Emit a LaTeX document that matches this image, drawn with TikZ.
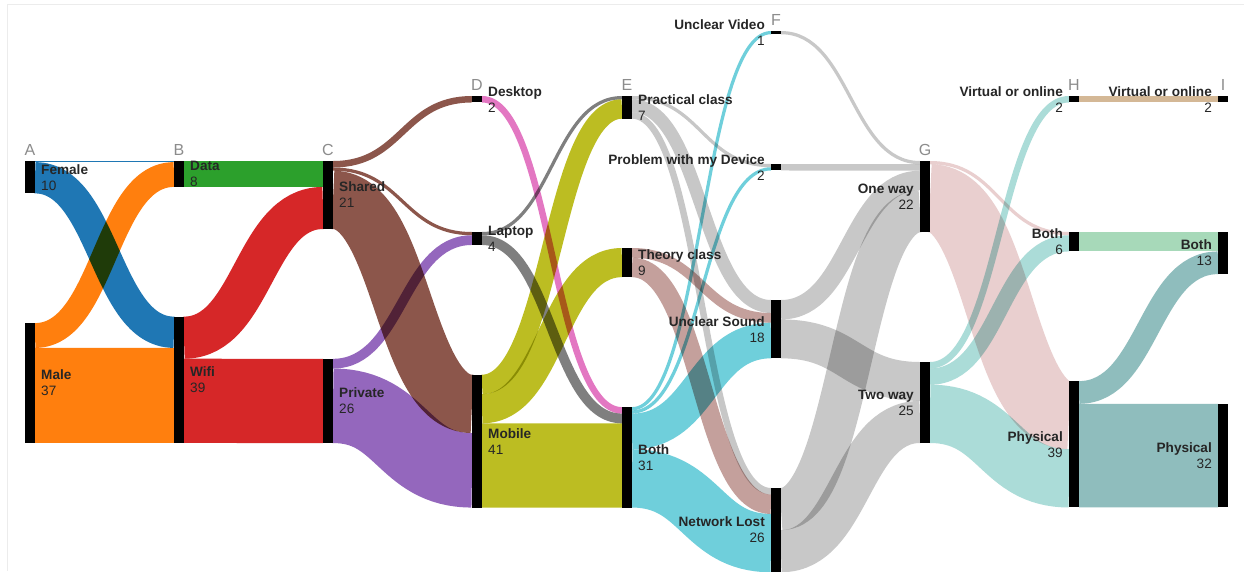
\documentclass[tikz,border=0pt]{standalone}
\usepackage{fontspec}
\setmainfont{Liberation Sans}
\usetikzlibrary{positioning,calc}

\definecolor{femcolor}{HTML}{1F77B4}
\definecolor{malecolor}{HTML}{FF7F0E}
\definecolor{datacolor}{HTML}{2CA02C}
\definecolor{wificolor}{HTML}{D62728}
\definecolor{sharedcolor}{HTML}{8C564B}
\definecolor{privatecolor}{HTML}{9467BD}
\definecolor{desktopcolor}{HTML}{E377C2}
\definecolor{laptopcolor}{HTML}{7F7F7F}
\definecolor{mobilecolor}{HTML}{BCBD22}
\definecolor{practicalcolor}{HTML}{C7C7C7}
\definecolor{theorycolor}{HTML}{C4A09C}
\definecolor{bothcolor}{HTML}{6FCFDB}
\definecolor{problemcolor}{HTML}{C8C8C8}
\definecolor{onewaycolor}{HTML}{E9CFCF}
\definecolor{twowaycolor}{HTML}{ABDCD8}
\definecolor{virtualcolor}{HTML}{D4B896}
\definecolor{hbothcolor}{HTML}{A7D9B9}
\definecolor{physicalcolor}{HTML}{8FBDBD}
\definecolor{framecolor}{HTML}{ECECEC}

% one unit of flow, in pt
\newcommand{\un}{3.24}
% band from #1 (offset #2) to #3 (offset #4), value #5, colour #6
\newcommand{\linkband}[6]{%
  \coordinate (ls) at ($(#1.north east)+(0,{(#2+#5/2)*\un})$);
  \coordinate (lt) at ($(#3.north west)+(0,{(#4+#5/2)*\un})$);
  \coordinate (lm) at ($(ls)!0.5!(lt)$);
  \draw[link, #6, line width=#5*\un*1pt] (ls) .. controls (ls -| lm) and (lt -| lm) .. (lt);}

\tikzset{
  bar/.style={fill=black, draw=none, inner sep=0pt, outer sep=0pt,
    minimum width=10pt, minimum height=#1*\un*1pt, anchor=north west},
  link/.style={line cap=butt, blend mode=multiply},
  lbl/.style={font=\fontsize{13.6}{16}\selectfont, align=left,
    inner sep=0pt, text=black!85},
  lblr/.style={lbl, align=right},
  colname/.style={font=\fontsize{16}{16}\selectfont, text=black!45, inner sep=0pt}
}

\begin{document}
\begin{tikzpicture}[x=1pt,y=-1pt]

% -------- Canvas --------
\useasboundingbox (0,0) rectangle (1244,571);
\fill[white] (0,0) rectangle (1244,571);
\draw[framecolor] (7,571) -- (7,4) -- (1244,4);

% -------- Columns A to I (black bars) --------
\node[bar=10] (fem) at (25,161) {};
\node[bar=37] (male) at (25,323.1) {};

\node[bar=8] (data) at (174,161) {};
\node[bar=39] (wifi) at (174,316.6) {};

\node[bar=21] (shared) at (323,161) {};
\node[bar=26] (private) at (323,358.8) {};

\node[bar=2] (desktop) at (472,96) {};
\node[bar=4] (laptop) at (472,232) {};
\node[bar=41] (mobile) at (472,374.7) {};

\node[bar=7] (practical) at (622,96) {};
\node[bar=9] (theory) at (622,248) {};
\node[bar=31] (bothe) at (622,407.1) {};

\node[bar=1] (video) at (771,31) {};
\node[bar=2] (device) at (771,164) {};
\node[bar=18] (sound) at (771,300) {};
\node[bar=26] (lost) at (771,488) {};

\node[bar=22] (oneway) at (920,161) {};
\node[bar=25] (twoway) at (920,362) {};

\node[bar=2] (hvirtual) at (1069,96) {};
\node[bar=6] (hboth) at (1069,232) {};
\node[bar=39] (hphysical) at (1069,381.1) {};

\node[bar=2] (ivirtual) at (1218,96) {};
\node[bar=13] (iboth) at (1218,232) {};
\node[bar=32] (iphysical) at (1218,403.8) {};

% -------- Links A -> B --------
\linkband{fem}{0}{data}{0}{0.35}{femcolor}
\linkband{fem}{0.35}{wifi}{0}{9.65}{femcolor}
\linkband{male}{0}{data}{0.35}{7.65}{malecolor}
\linkband{male}{7.65}{wifi}{9.65}{29.35}{malecolor}

% -------- Links B -> C --------
\linkband{data}{0}{shared}{0}{8}{datacolor}
\linkband{wifi}{0}{shared}{8}{13}{wificolor}
\linkband{wifi}{13}{private}{0}{26}{wificolor}

% -------- Links C -> D --------
\linkband{shared}{0}{desktop}{0}{2}{sharedcolor}
\linkband{shared}{2}{laptop}{0}{1}{sharedcolor}
\linkband{shared}{3}{mobile}{0}{18}{sharedcolor}
\linkband{private}{0}{laptop}{1}{3}{privatecolor}
\linkband{private}{3}{mobile}{18}{23}{privatecolor}

% -------- Links D -> E --------
\linkband{desktop}{0}{bothe}{0}{2}{desktopcolor}
\linkband{laptop}{0}{practical}{0}{1}{laptopcolor}
\linkband{laptop}{1}{bothe}{2}{3}{laptopcolor}
\linkband{mobile}{0}{practical}{1}{6}{mobilecolor}
\linkband{mobile}{6}{theory}{0}{9}{mobilecolor}
\linkband{mobile}{15}{bothe}{5}{26}{mobilecolor}

% -------- Links E -> F --------
\linkband{practical}{0}{device}{0}{1}{practicalcolor}
\linkband{practical}{1}{sound}{0}{4}{practicalcolor}
\linkband{practical}{5}{lost}{0}{2}{practicalcolor}
\linkband{theory}{0}{sound}{4}{3}{theorycolor}
\linkband{theory}{3}{lost}{2}{6}{theorycolor}
\linkband{bothe}{0}{video}{0}{1}{bothcolor}
\linkband{bothe}{1}{device}{1}{1}{bothcolor}
\linkband{bothe}{2}{sound}{7}{11}{bothcolor}
\linkband{bothe}{13}{lost}{8}{18}{bothcolor}

% -------- Links F -> G --------
\linkband{video}{0}{oneway}{0}{1}{problemcolor}
\linkband{device}{0}{oneway}{1}{2}{problemcolor}
\linkband{sound}{0}{oneway}{3}{6}{problemcolor}
\linkband{sound}{6}{twoway}{0}{12}{problemcolor}
\linkband{lost}{0}{oneway}{9}{13}{problemcolor}
\linkband{lost}{13}{twoway}{12}{13}{problemcolor}

% -------- Links G -> H --------
\linkband{oneway}{0}{hboth}{0}{1}{onewaycolor}
\linkband{oneway}{1}{hphysical}{0}{21}{onewaycolor}
\linkband{twoway}{0}{hvirtual}{0}{2}{twowaycolor}
\linkband{twoway}{2}{hboth}{1}{5}{twowaycolor}
\linkband{twoway}{7}{hphysical}{21}{18}{twowaycolor}

% -------- Links H -> I --------
\linkband{hvirtual}{0}{ivirtual}{0}{2}{virtualcolor}
\linkband{hboth}{0}{iboth}{0}{6}{hbothcolor}
\linkband{hphysical}{0}{iboth}{6}{7}{physicalcolor}
\linkband{hphysical}{7}{iphysical}{0}{32}{physicalcolor}

% -------- Column letters --------
\node[colname, above=5pt of fem] {A};
\node[colname, above=5pt of data] {B};
\node[colname, above=5pt of shared] {C};
\node[colname, above=5pt of desktop] {D};
\node[colname, above=5pt of practical] {E};
\node[colname, above=5pt of video] {F};
\node[colname, above=5pt of oneway] {G};
\node[colname, above=5pt of hvirtual] {H};
\node[colname, above=5pt of ivirtual] {I};

% -------- Labels (left half) --------
\node[lbl, right=6pt of fem] {\textbf{Female}\\10};
\node[lbl, right=6pt of male] {\textbf{Male}\\37};
\node[lbl, right=6pt of data] {\textbf{Data}\\8};
\node[lbl, right=6pt of wifi] {\textbf{Wifi}\\39};
\node[lbl, right=6pt of shared] {\textbf{Shared}\\21};
\node[lbl, right=6pt of private] {\textbf{Private}\\26};
\node[lbl, right=6pt of desktop] {\textbf{Desktop}\\2};
\node[lbl, right=6pt of laptop] {\textbf{Laptop}\\4};
\node[lbl, right=6pt of mobile] {\textbf{Mobile}\\41};
\node[lbl, right=6pt of practical] {\textbf{Practical class}\\7};
\node[lbl, right=6pt of theory] {\textbf{Theory class}\\9};
\node[lbl, right=6pt of bothe] {\textbf{Both}\\31};

% -------- Labels (right half) --------
\node[lblr, left=6pt of video] {\textbf{Unclear Video}\\1};
\node[lblr, left=6pt of device] {\textbf{Problem with my Device}\\2};
\node[lblr, left=6pt of sound] {\textbf{Unclear Sound}\\18};
\node[lblr, left=6pt of lost] {\textbf{Network Lost}\\26};
\node[lblr, left=6pt of oneway] {\textbf{One way}\\22};
\node[lblr, left=6pt of twoway] {\textbf{Two way}\\25};
\node[lblr, left=6pt of hvirtual] {\textbf{Virtual or online}\\2};
\node[lblr, left=6pt of hboth] {\textbf{Both}\\6};
\node[lblr, left=6pt of hphysical] {\textbf{Physical}\\39};
\node[lblr, left=6pt of ivirtual] {\textbf{Virtual or online}\\2};
\node[lblr, left=6pt of iboth] {\textbf{Both}\\13};
\node[lblr, left=6pt of iphysical] {\textbf{Physical}\\32};

\end{tikzpicture}
\end{document}
